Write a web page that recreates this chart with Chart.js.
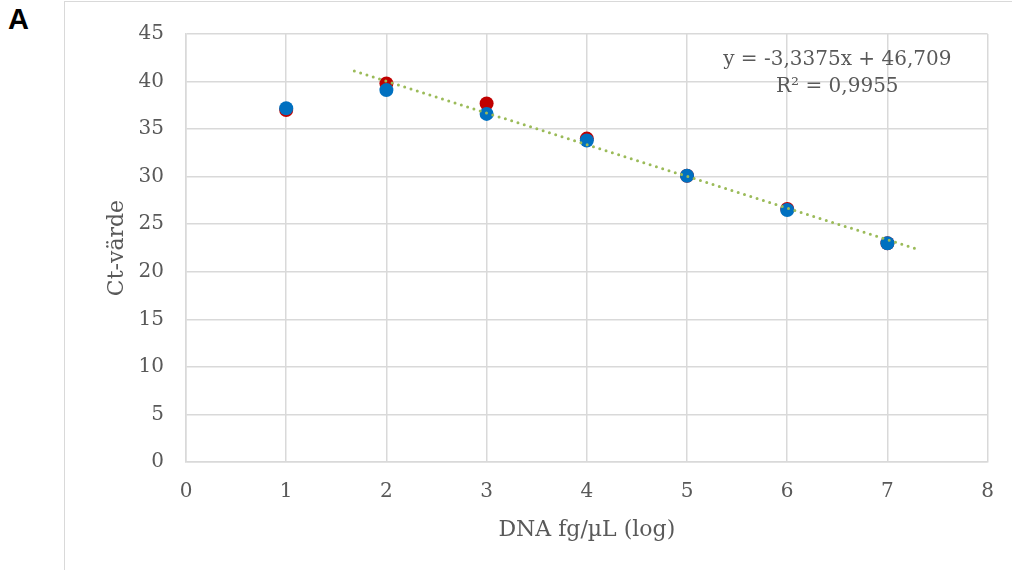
<!DOCTYPE html>
<html>
<head>
<meta charset="utf-8">
<script src="https://cdn.jsdelivr.net/npm/chart.js@4/dist/chart.umd.min.js"></script>
<style>
  html, body { margin: 0; padding: 0; background: #fff; }
  #wrap { position: relative; width: 1012px; height: 570px; overflow: hidden; }
  #frame { position: absolute; left: 64px; top: 1px; width: 1000px; height: 600px;
           border: 1px solid #d9d9d9; box-sizing: border-box; }
  #tag { position: absolute; left: 8px; top: 3px; font: bold 29px "Liberation Sans", Arial, sans-serif;
         color: #000; }
  canvas { position: absolute; left: 0; top: 0; }
</style>
</head>
<body>
<div id="wrap">
  <div id="frame"></div>
  <div id="tag">A</div>
  <canvas id="c" width="1012" height="570"></canvas>
</div>
<script>
"use strict";

// log(DNA fg/µL) på x, Ct-värde på y
const logConc = [1, 2, 3, 4, 5, 6, 7];
const ctRed  = [37.0, 39.8, 37.7, 34.0, 30.1, 26.6, 23.0];
const ctBlue = [37.2, 39.1, 36.6, 33.8, 30.1, 26.5, 23.0];
// trendlinjens ändpunkter
const trendX = [1.68, 7.29];
const trendY = [41.1, 22.4];
const xTicks = [0, 1, 2, 3, 4, 5, 6, 7, 8];
const yTicks = [0, 5, 10, 15, 20, 25, 30, 35, 40, 45];
const eqLines = ["y = -3,3375x + 46,709", "R² = 0,9955"];

const SERIF = '"DejaVu Serif", "Liberation Serif", serif';
const GRID = "#d9d9d9";
const TXT = "#595959";

const pts = (xs, ys) => xs.map((x, i) => ({ x, y: ys[i] }));

const equationLabel = {
  id: "equationLabel",
  afterDatasetsDraw(chart) {
    const { ctx, scales: { x, y } } = chart;
    ctx.save();
    ctx.fillStyle = TXT;
    ctx.font = "20px " + SERIF;
    ctx.textAlign = "center";
    ctx.textBaseline = "middle";
    ctx.fillText(eqLines[0], x.getPixelForValue(6.5), y.getPixelForValue(42.3));
    ctx.fillText(eqLines[1], x.getPixelForValue(6.5), y.getPixelForValue(39.4));
    ctx.restore();
  },
};

new Chart(document.getElementById("c"), {
  type: "scatter",
  data: {
    datasets: [
      { data: pts(trendX, trendY), showLine: true, order: 0,
        borderColor: "#9bbb59", borderWidth: 3, borderDash: [0, 6.6],
        borderCapStyle: "round", pointRadius: 0, fill: false },
      { data: pts(logConc, ctBlue), order: 1, pointRadius: 7, pointHoverRadius: 7,
        backgroundColor: "#0070c0", borderWidth: 0 },
      { data: pts(logConc, ctRed), order: 2, pointRadius: 7, pointHoverRadius: 7,
        backgroundColor: "#c00000", borderWidth: 0 },
    ],
  },
  options: {
    responsive: false,
    animation: false,
    layout: { padding: { left: 92, top: 20, right: 22, bottom: 0 } },
    plugins: { legend: { display: false }, tooltip: { enabled: false } },
    scales: {
      x: {
        type: "linear", min: 0, max: 8,
        afterBuildTicks: (s) => { s.ticks = xTicks.map((v) => ({ value: v })); },
        afterFit: (s) => { s.height = 108; },
        grid: { color: GRID, lineWidth: 1.5, drawTicks: false },
        border: { color: GRID, width: 1.5 },
        ticks: { color: TXT, font: { family: SERIF, size: 20 }, padding: 18 },
        title: { display: true, text: "DNA fg/µL (log)", color: TXT,
                 font: { family: SERIF, size: 22 }, padding: { bottom: 27 } },
      },
      y: {
        type: "linear", min: 0, max: 45,
        afterBuildTicks: (s) => { s.ticks = yTicks.map((v) => ({ value: v })); },
        afterFit: (s) => { s.width = 94; },
        grid: { color: GRID, lineWidth: 1.5, drawTicks: false },
        border: { color: GRID, width: 1.5 },
        ticks: { color: TXT, font: { family: SERIF, size: 20 }, padding: 22 },
        title: { display: true, text: "Ct-värde", color: TXT,
                 font: { family: SERIF, size: 22 }, padding: { top: 12 } },
      },
    },
  },
  plugins: [equationLabel],
});
</script>
</body>
</html>
